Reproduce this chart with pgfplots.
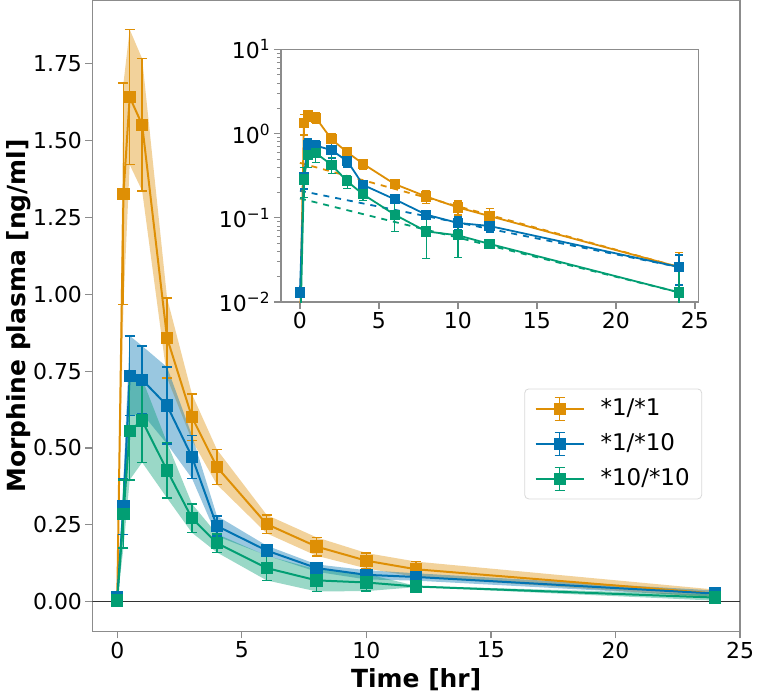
\documentclass[border=0pt]{standalone}
\usepackage{pgfplots}
\pgfplotsset{compat=1.18}
\usepgfplotslibrary{fillbetween}
\usepackage{pgfplotstable}
\usepackage{fontspec}
\setmainfont{DejaVu Sans}

\definecolor{cOr}{HTML}{DE8F05}
\definecolor{cBl}{HTML}{0173B2}
\definecolor{cGr}{HTML}{029E73}
\definecolor{frm}{HTML}{8C8C8C}

\pgfplotstableread{
t y e
0 0.005 0.003
0.25 1.327 0.36
0.5 1.642 0.22
1 1.552 0.215
2 0.858 0.13
3 0.600 0.075
4 0.438 0.057
6 0.252 0.03
8 0.179 0.03
10 0.133 0.025
12 0.105 0.025
24 0.026 0.013
}\orange

\pgfplotstableread{
t y e
0 0.013 0.001
0.25 0.309 0.09
0.5 0.735 0.13
1 0.722 0.11
2 0.638 0.125
3 0.471 0.07
4 0.246 0.033
6 0.166 0.016
8 0.109 0.012
10 0.087 0.015
12 0.080 0.012
24 0.026 0.010
}\blue

\pgfplotstableread{
t y e
0 0.003 0.001
0.25 0.285 0.11
0.5 0.556 0.16
1 0.589 0.136
2 0.427 0.09
3 0.271 0.047
4 0.190 0.03
6 0.109 0.04
8 0.069 0.036
10 0.062 0.028
12 0.049 0.002
24 0.013 0.010
}\green

\pgfplotsset{
  ser/.style={#1, line width=1pt, mark=square*, mark size=2.6pt, mark options={solid, #1},
    error bars/.cd, y dir=both, y explicit,
    error bar style={line width=0.75pt, #1},
    error mark options={rotate=90, mark size=2.5pt, line width=0.75pt, #1}},
  iser/.style={#1, line width=0.9pt, mark=square*, mark size=2.1pt, mark options={solid, #1},
    error bars/.cd, y dir=both, y explicit,
    error bar style={line width=0.7pt, #1},
    error mark options={rotate=90, mark size=2pt, line width=0.7pt, #1}},
}

\begin{document}
\begin{tikzpicture}
\begin{axis}[
  scale only axis, width=324.5pt, height=316pt,
  xmin=-1, xmax=25, ymin=-0.097, ymax=1.956,
  xtick={0,5,10,15,20,25}, ytick={0,0.25,0.5,0.75,1,1.25,1.5,1.75},
  yticklabel style={/pgf/number format/.cd, fixed, fixed zerofill, precision=2},
  /pgf/number format/assume math mode=true,
  ticklabel style={font=\fontsize{11}{13}\selectfont, inner sep=1.5pt},
  label style={font=\fontsize{12.5}{15}\selectfont\bfseries},
  ylabel shift=-4pt,
  xlabel={Time [hr]}, ylabel={Morphine plasma [ng/ml]},
  axis line style={frm, line width=0.6pt},
  tick align=outside, xtick pos=bottom, ytick pos=left,
  major tick style={frm, line width=0.6pt}, major tick length=3.5pt,
  legend style={at={(0.667,0.385)}, anchor=north west, draw=black!15, rounded corners=2pt,
    font=\fontsize{11.5}{14}\selectfont, inner xsep=4pt, inner ysep=3pt, row sep=3.5pt},
  legend cell align=left,
  legend image code/.code={
    \path (-1pt,0pt) (30pt,0pt);
    \draw[#1, mark=none, solid, line width=0.75pt] (12pt,-5.75pt) -- (12pt,5.75pt);
    \draw[#1, mark=none, solid, line width=0.75pt] (9.5pt,-5.75pt) -- (14.5pt,-5.75pt);
    \draw[#1, mark=none, solid, line width=0.75pt] (9.5pt,5.75pt) -- (14.5pt,5.75pt);
    \draw[mark repeat=2, mark phase=2, #1] plot coordinates {(0pt,0pt) (12pt,0pt) (24pt,0pt)};
  },
]
% bands
\addplot[name path=oU, draw=none, forget plot] table[x=t, y expr=\thisrow{y}+\thisrow{e}] {\orange};
\addplot[name path=oL, draw=none, forget plot] table[x=t, y expr=\thisrow{y}-\thisrow{e}] {\orange};
\addplot[cOr, fill opacity=0.4, draw=none, forget plot] fill between[of=oU and oL];
\addplot[name path=bU, draw=none, forget plot] table[x=t, y expr=\thisrow{y}+\thisrow{e}] {\blue};
\addplot[name path=bL, draw=none, forget plot] table[x=t, y expr=\thisrow{y}-\thisrow{e}] {\blue};
\addplot[cBl, fill opacity=0.4, draw=none, forget plot] fill between[of=bU and bL];
\addplot[name path=gU, draw=none, forget plot] table[x=t, y expr=\thisrow{y}+\thisrow{e}] {\green};
\addplot[name path=gL, draw=none, forget plot] table[x=t, y expr=\thisrow{y}-\thisrow{e}] {\green};
\addplot[cGr, fill opacity=0.4, draw=none, forget plot] fill between[of=gU and gL];
% zero line
\addplot[black!80, line width=0.75pt, forget plot] coordinates {(-1,0) (25,0)};
% series
\addplot[ser=cOr] table[x=t, y=y, y error=e] {\orange};
\addlegendentry{*1/*1}
\addplot[ser=cBl] table[x=t, y=y, y error=e] {\blue};
\addlegendentry{*1/*10}
\addplot[ser=cGr] table[x=t, y=y, y error=e] {\green};
\addlegendentry{*10/*10}
\end{axis}

\begin{axis}[
  at={(94.5pt,165pt)}, anchor=south west,
  scale only axis, width=209pt, height=126.5pt,
  ymode=log, xmin=-1.2, xmax=25.2, ymin=0.01, ymax=10,
  xtick={0,5,10,15,20,25},
  ytick={0.01,0.1,1,10},
  yticklabels={10\textsuperscript{−2},10\textsuperscript{−1},10\textsuperscript{0},10\textsuperscript{1}},
  /pgf/number format/assume math mode=true,
  ticklabel style={font=\fontsize{11}{13}\selectfont, inner sep=1.5pt},
  axis background/.style={fill=white},
  axis line style={frm, line width=0.6pt},
  tick align=outside, xtick pos=bottom, ytick pos=left,
  major tick style={frm, line width=0.6pt}, major tick length=3.5pt,
  minor tick style={frm, line width=0.4pt}, minor tick length=2pt,
]
\addplot[cOr, dashed, line width=0.9pt] coordinates {(0,0.45) (24,0.026)};
\addplot[cBl, dashed, line width=0.9pt] coordinates {(0,0.21) (24,0.026)};
\addplot[cGr, dashed, line width=0.9pt] coordinates {(0,0.17) (24,0.013)};
\addplot[iser=cOr] table[x=t, y=y, y error=e] {\orange};
\addplot[iser=cBl] table[x=t, y=y, y error=e] {\blue};
\addplot[iser=cGr] table[x=t, y=y, y error=e] {\green};
\end{axis}
\end{tikzpicture}
\end{document}
